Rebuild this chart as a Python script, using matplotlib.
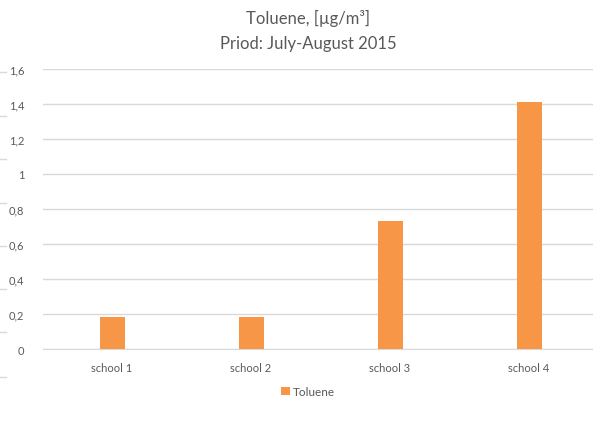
import matplotlib.pyplot as plt
from matplotlib.lines import Line2D

# data
schools = ["school 1", "school 2", "school 3", "school 4"]
toluene = [0.18, 0.18, 0.73, 1.41]
y_ticks = [0, 0.2, 0.4, 0.6, 0.8, 1.0, 1.2, 1.4, 1.6]
y_labels = ["0", "0,2", "0,4", "0,6", "0,8", "1", "1,2", "1,4", "1,6"]

plt.rcParams["font.family"] = ["Lato", "DejaVu Sans"]

fig = plt.figure(figsize=(5.93, 4.35), dpi=100)
ax = fig.add_axes([0.0717, 0.1954, 0.9376, 0.6437])

x = range(len(schools))
ax.bar(x, toluene, width=0.18, color="#F79646", zorder=3, label="Toluene")

ax.set_xlim(-0.5, len(schools) - 0.5)
ax.set_ylim(0, 1.6)
ax.set_yticks(y_ticks)
ax.set_yticklabels(y_labels)
ax.set_xticks(list(x))
ax.set_xticklabels(schools)
ax.tick_params(axis="both", length=0, labelsize=8, colors="#595959")
ax.tick_params(axis="y", pad=13)
ax.tick_params(axis="x", pad=9)
ax.grid(axis="y", color="#d9d9d9", linewidth=1, zorder=0)
ax.set_axisbelow(True)
for s in ["top", "right", "left"]:
    ax.spines[s].set_visible(False)
ax.spines["bottom"].set_color("#d9d9d9")

fig.text(0.52, 0.958, "Toluene, [µg/m³]", ha="center", va="center",
         fontsize=12, color="#595959")
fig.text(0.52, 0.900, "Priod: July-August 2015", ha="center", va="center",
         fontsize=12, color="#595959")

ax.legend(loc="center", bbox_to_anchor=(0.52, 0.097), bbox_transform=fig.transFigure,
          frameon=False, fontsize=8.5, labelcolor="#595959",
          handlelength=0.7, handleheight=0.7, handletextpad=0.3)

# small stray ticks at the left border
for yp in [73, 117, 160, 204, 247, 290, 333, 378]:
    fig.add_artist(Line2D([0, 6 / 593], [1 - yp / 435] * 2,
                          transform=fig.transFigure, color="#d9d9d9", lw=1))

fig.savefig("out.png", dpi=100)
